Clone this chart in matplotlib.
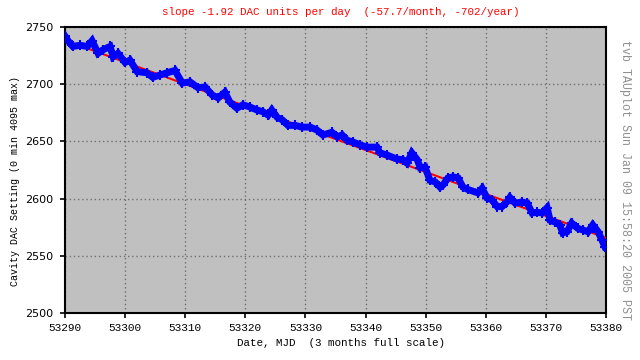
import matplotlib
matplotlib.use("Agg")
from matplotlib import pyplot as plt
import numpy as np

# DAC readings (MJD, DAC setting)
mjd = [53290.0, 53290.5, 53291.3, 53292.5, 53293.7, 53294.5, 53295.5, 53296.3, 53297.5, 53298.0,
       53298.8, 53300.0, 53300.8, 53302.0, 53303.6, 53304.6, 53305.8, 53307.0, 53308.3, 53309.5,
       53310.8, 53312.1, 53313.3, 53314.5, 53315.5, 53316.6, 53317.4, 53318.6, 53319.6, 53320.8,
       53321.9, 53322.9, 53323.8, 53324.4, 53325.3, 53326.1, 53327.1, 53328.3, 53329.4, 53330.8,
       53331.9, 53332.9, 53334.4, 53335.3, 53336.1, 53336.9, 53337.9, 53339.1, 53340.2, 53341.9,
       53342.4, 53343.6, 53345.2, 53346.2, 53346.9, 53347.7, 53348.6, 53349.1, 53349.9, 53350.7,
       53351.6, 53352.4, 53352.9, 53353.7, 53354.5, 53355.4, 53356.2, 53357.0, 53358.7, 53359.4,
       53360.2, 53361.0, 53361.9, 53362.7, 53363.5, 53364.0, 53364.9, 53366.0, 53366.9, 53367.7,
       53368.5, 53369.4, 53370.2, 53370.7, 53371.5, 53372.3, 53372.8, 53373.5, 53374.3, 53375.3,
       53376.2, 53377.0, 53377.8, 53378.7, 53379.3, 53379.8]
dac = [2742, 2738, 2733, 2734, 2733, 2738, 2727, 2730, 2733, 2724,
       2727, 2719, 2721, 2711, 2710, 2706, 2708, 2710, 2712, 2701,
       2702, 2697, 2697.5, 2690.5, 2688, 2693, 2684.5, 2679, 2682, 2680,
       2677.5, 2676, 2673, 2677.5, 2671, 2669, 2664, 2664, 2662.5, 2662.5,
       2660, 2655.6, 2658, 2654, 2655.6, 2651, 2649.5, 2647, 2645, 2645,
       2640, 2638, 2634.6, 2634, 2631, 2640, 2634, 2627, 2627.6, 2616,
       2614.5, 2610, 2612, 2618, 2619, 2618, 2610, 2608, 2605, 2609,
       2600.5, 2599, 2593, 2593, 2597, 2601, 2596, 2597, 2596, 2587.5,
       2588, 2587.5, 2592, 2581, 2579.5, 2577, 2570, 2571, 2578.6, 2574,
       2572.5, 2571, 2577, 2571, 2564, 2558]

slope = -1.92          # DAC units per day
fit_start = 53290.5
fit_value0 = 2737.5
fit_end = 53380

xticks = list(range(53290, 53381, 10))
yticks = list(range(2500, 2751, 50))

mono = "Liberation Mono"

fig = plt.figure(figsize=(6.4, 3.6), dpi=100, facecolor="white")
ax = fig.add_axes([65 / 640, 1 - 313 / 360, (606 - 65) / 640, (313 - 27) / 360])
ax.set_facecolor("#c0c0c0")

fit_x = np.array([fit_start, fit_end])
fit_y = fit_value0 + slope * (fit_x - fit_start)
ax.plot(fit_x, fit_y, color="#ff0000", lw=1.5, zorder=3)
ax.plot(mjd, dac, color="#0000ff", lw=5, solid_joinstyle="miter", zorder=4)
ax.plot(mjd, dac, color="#0000ff", lw=0, marker="+", ms=7, mew=1.5, zorder=4)

ax.set_xlim(53290, 53380)
ax.set_ylim(2500, 2750)
ax.set_xticks(xticks)
ax.set_yticks(yticks)
ax.set_xticklabels([str(t) for t in xticks], fontfamily=mono, fontsize=8)
ax.set_yticklabels([str(t) for t in yticks], fontfamily="DejaVu Sans", fontsize=8)
ax.tick_params(direction="out", length=3.5, width=1.2, color="black")
ax.tick_params(axis="x", pad=4)
ax.tick_params(axis="y", pad=5)
ax.grid(True, color="#707070", linestyle=(0, (1, 2)), linewidth=1)
ax.set_axisbelow(True)
for s in ax.spines.values():
    s.set_color("black")
    s.set_linewidth(1.5)

fig.text(341 / 640, 1 - 12 / 360, "slope -1.92 DAC units per day  (-57.7/month, -702/year)",
         color="#ff0000", fontfamily=mono, fontsize=7.8, ha="center", va="center")
fig.text(341 / 640, 1 - 343 / 360, "Date, MJD  (3 months full scale)",
         color="black", fontfamily=mono, fontsize=7.8, ha="center", va="center")
fig.text(15 / 640, 1 - 181 / 360, "Cavity DAC Setting (0 min 4095 max)",
         color="black", fontfamily=mono, fontsize=7.2, ha="center", va="center", rotation=90)
fig.text(625 / 640, 1 - 180 / 360, "tvb TAUplot Sun Jan 09 15:58:20 2005 PST",
         color="#909090", fontfamily=mono, fontsize=8.4, ha="center", va="center", rotation=-90)

fig.savefig("out.png", dpi=100, facecolor="white")
